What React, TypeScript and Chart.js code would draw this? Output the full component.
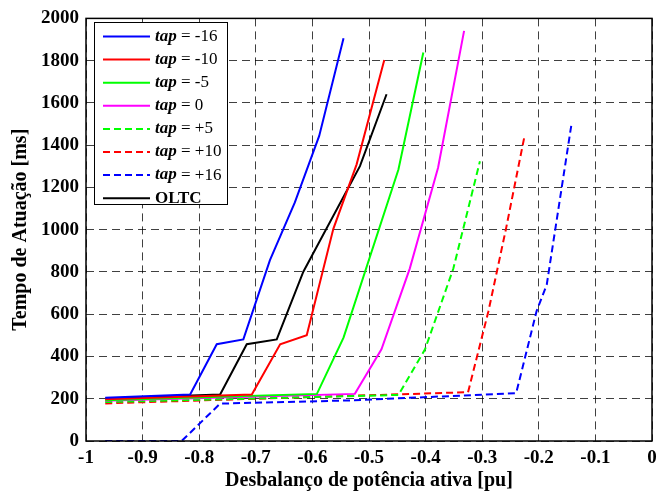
import React, { useEffect, useRef } from "react";
import { Chart, registerables } from "chart.js";

Chart.register(...registerables);

// ---- Data (x = active power imbalance [pu], y = operating time [ms]) ----
const xTapM16 = [-0.966, -0.816, -0.769, -0.722, -0.675, -0.631, -0.588, -0.545];
const yTapM16 = [205, 220, 458, 481, 856, 1129, 1444, 1906];

const xTapM10 = [-0.966, -0.707, -0.657, -0.61, -0.563, -0.522, -0.473];
const yTapM10 = [197, 220, 458, 501, 1004, 1308, 1803];

const xTapM5 = [-0.966, -0.592, -0.545, -0.448, -0.404];
const yTapM5 = [193, 223, 489, 1285, 1839];

const xTap0 = [-0.966, -0.525, -0.478, -0.428, -0.378, -0.332];
const yTap0 = [190, 223, 434, 816, 1293, 1941];

const xTapP5 = [-0.966, -0.448, -0.401, -0.351, -0.304];
const yTapP5 = [184, 218, 434, 816, 1324];

const xTapP10 = [-0.966, -0.325, -0.289, -0.258, -0.226];
const yTapP10 = [178, 231, 614, 1004, 1433];

const xTapP16 = [-0.966, -0.831, -0.763, -0.534, -0.24, -0.204, -0.186, -0.142];
const yTapP16 = [0, 0, 177, 192, 226, 614, 739, 1504];

const xOLTC = [-0.966, -0.763, -0.716, -0.663, -0.616, -0.516, -0.469];
const yOLTC = [201, 220, 458, 481, 801, 1301, 1641];

const legendTaps = ["-16", "-10", "-5", "0", "+5", "+10", "+16"];
const xTitle = "Desbalanço de potência ativa [pu]";
const yTitle = "Tempo de Atuação [ms]";

const FONT = "'Liberation Serif', 'Times New Roman', serif";

const pts = (xs: number[], ys: number[]) => xs.map((x, i) => ({ x, y: ys[i] }));

const series = [
  { label: "tap = -16", xs: xTapM16, ys: yTapM16, color: "#0000ff", dash: [] as number[] },
  { label: "tap = -10", xs: xTapM10, ys: yTapM10, color: "#ff0000", dash: [] as number[] },
  { label: "tap = -5", xs: xTapM5, ys: yTapM5, color: "#00ff00", dash: [] as number[] },
  { label: "tap = 0", xs: xTap0, ys: yTap0, color: "#ff00ff", dash: [] as number[] },
  { label: "tap = +5", xs: xTapP5, ys: yTapP5, color: "#00ff00", dash: [7, 4] },
  { label: "tap = +10", xs: xTapP10, ys: yTapP10, color: "#ff0000", dash: [7, 4] },
  { label: "tap = +16", xs: xTapP16, ys: yTapP16, color: "#0000ff", dash: [7, 4] },
  { label: "OLTC", xs: xOLTC, ys: yOLTC, color: "#000000", dash: [] as number[] },
];

const decorPlugin = {
  id: "decor",
  afterDraw(chart: any) {
    const ctx = chart.ctx as CanvasRenderingContext2D;
    const a = chart.chartArea;
    ctx.save();
    // frame
    ctx.strokeStyle = "#000";
    ctx.lineWidth = 1.5;
    ctx.setLineDash([]);
    ctx.strokeRect(a.left, a.top, a.right - a.left, a.bottom - a.top);

    // axis titles
    ctx.fillStyle = "#000";
    ctx.font = `bold 20px ${FONT}`;
    ctx.textAlign = "center";
    ctx.textBaseline = "middle";
    ctx.fillText(xTitle, (a.left + a.right) / 2, 481);
    ctx.save();
    ctx.translate(21, (a.top + a.bottom) / 2);
    ctx.rotate(-Math.PI / 2);
    ctx.fillText(yTitle, 0, 0);
    ctx.restore();

    // legend
    const bx = 94, by = 22, bw = 133, bh = 182;
    ctx.fillStyle = "#fff";
    ctx.fillRect(bx, by, bw, bh);
    ctx.strokeStyle = "#000";
    ctx.lineWidth = 1;
    ctx.strokeRect(bx + 0.5, by + 0.5, bw, bh);
    const y0 = 36.5;
    const dy = 23.1;
    series.forEach((s, i) => {
      const y = y0 + i * dy;
      ctx.strokeStyle = s.color;
      ctx.lineWidth = 2;
      ctx.setLineDash(s.dash);
      ctx.beginPath();
      ctx.moveTo(103, y);
      ctx.lineTo(150, y);
      ctx.stroke();
      ctx.setLineDash([]);
      ctx.fillStyle = "#000";
      ctx.textAlign = "left";
      ctx.textBaseline = "middle";
      if (i < legendTaps.length) {
        ctx.font = `italic bold 17px ${FONT}`;
        ctx.fillText("tap", 155, y);
        const w = ctx.measureText("tap").width;
        ctx.font = `17px ${FONT}`;
        ctx.fillText(" = " + legendTaps[i], 155 + w, y);
      } else {
        ctx.font = `bold 17px ${FONT}`;
        ctx.fillText("OLTC", 155, y);
      }
    });
    ctx.restore();
  },
};

export default function App() {
  const ref = useRef<HTMLCanvasElement>(null);
  useEffect(() => {
    document.body.style.margin = "0";
    const canvas = ref.current!;
    const chart = new Chart(canvas, {
      type: "line",
      data: {
        datasets: series.map((s) => ({
          label: s.label,
          data: pts(s.xs, s.ys),
          borderColor: s.color,
          backgroundColor: s.color,
          borderWidth: 2,
          borderDash: s.dash,
          pointRadius: 0,
          tension: 0,
          fill: false,
        })),
      },
      options: {
        animation: false,
        responsive: false,
        devicePixelRatio: 1,
        layout: { padding: { left: 0, right: 18, top: 14, bottom: 0 } },
        plugins: { legend: { display: false }, tooltip: { enabled: false }, title: { display: false } },
        scales: {
          x: {
            type: "linear",
            min: -1,
            max: 0,
            afterFit: (scale: any) => {
              scale.height = 52;
            },
            ticks: {
              stepSize: 0.1,
              padding: 6,
              color: "#000",
              font: { family: FONT, size: 19, weight: "bold" },
              maxRotation: 0,
              callback: (v: any) => String(Math.round(Number(v) * 10) / 10),
            },
            grid: { color: "rgba(0,0,0,0.75)", lineWidth: 1, drawTicks: false },
            border: { display: false, dash: [8, 5] },
          },
          y: {
            type: "linear",
            min: 0,
            max: 2000,
            afterFit: (scale: any) => {
              scale.width = 86;
            },
            ticks: {
              stepSize: 200,
              padding: 7,
              color: "#000",
              font: { family: FONT, size: 19, weight: "bold" },
              callback: (v: any) => String(Math.round(Number(v))),
            },
            grid: { color: "rgba(0,0,0,0.75)", lineWidth: 1, drawTicks: false },
            border: { display: false, dash: [8, 5] },
          },
        },
      },
      plugins: [decorPlugin],
    } as any);
    return () => chart.destroy();
  }, []);
  return <canvas ref={ref} width={670} height={493} style={{ display: "block", width: 670, height: 493 }} />;
}
